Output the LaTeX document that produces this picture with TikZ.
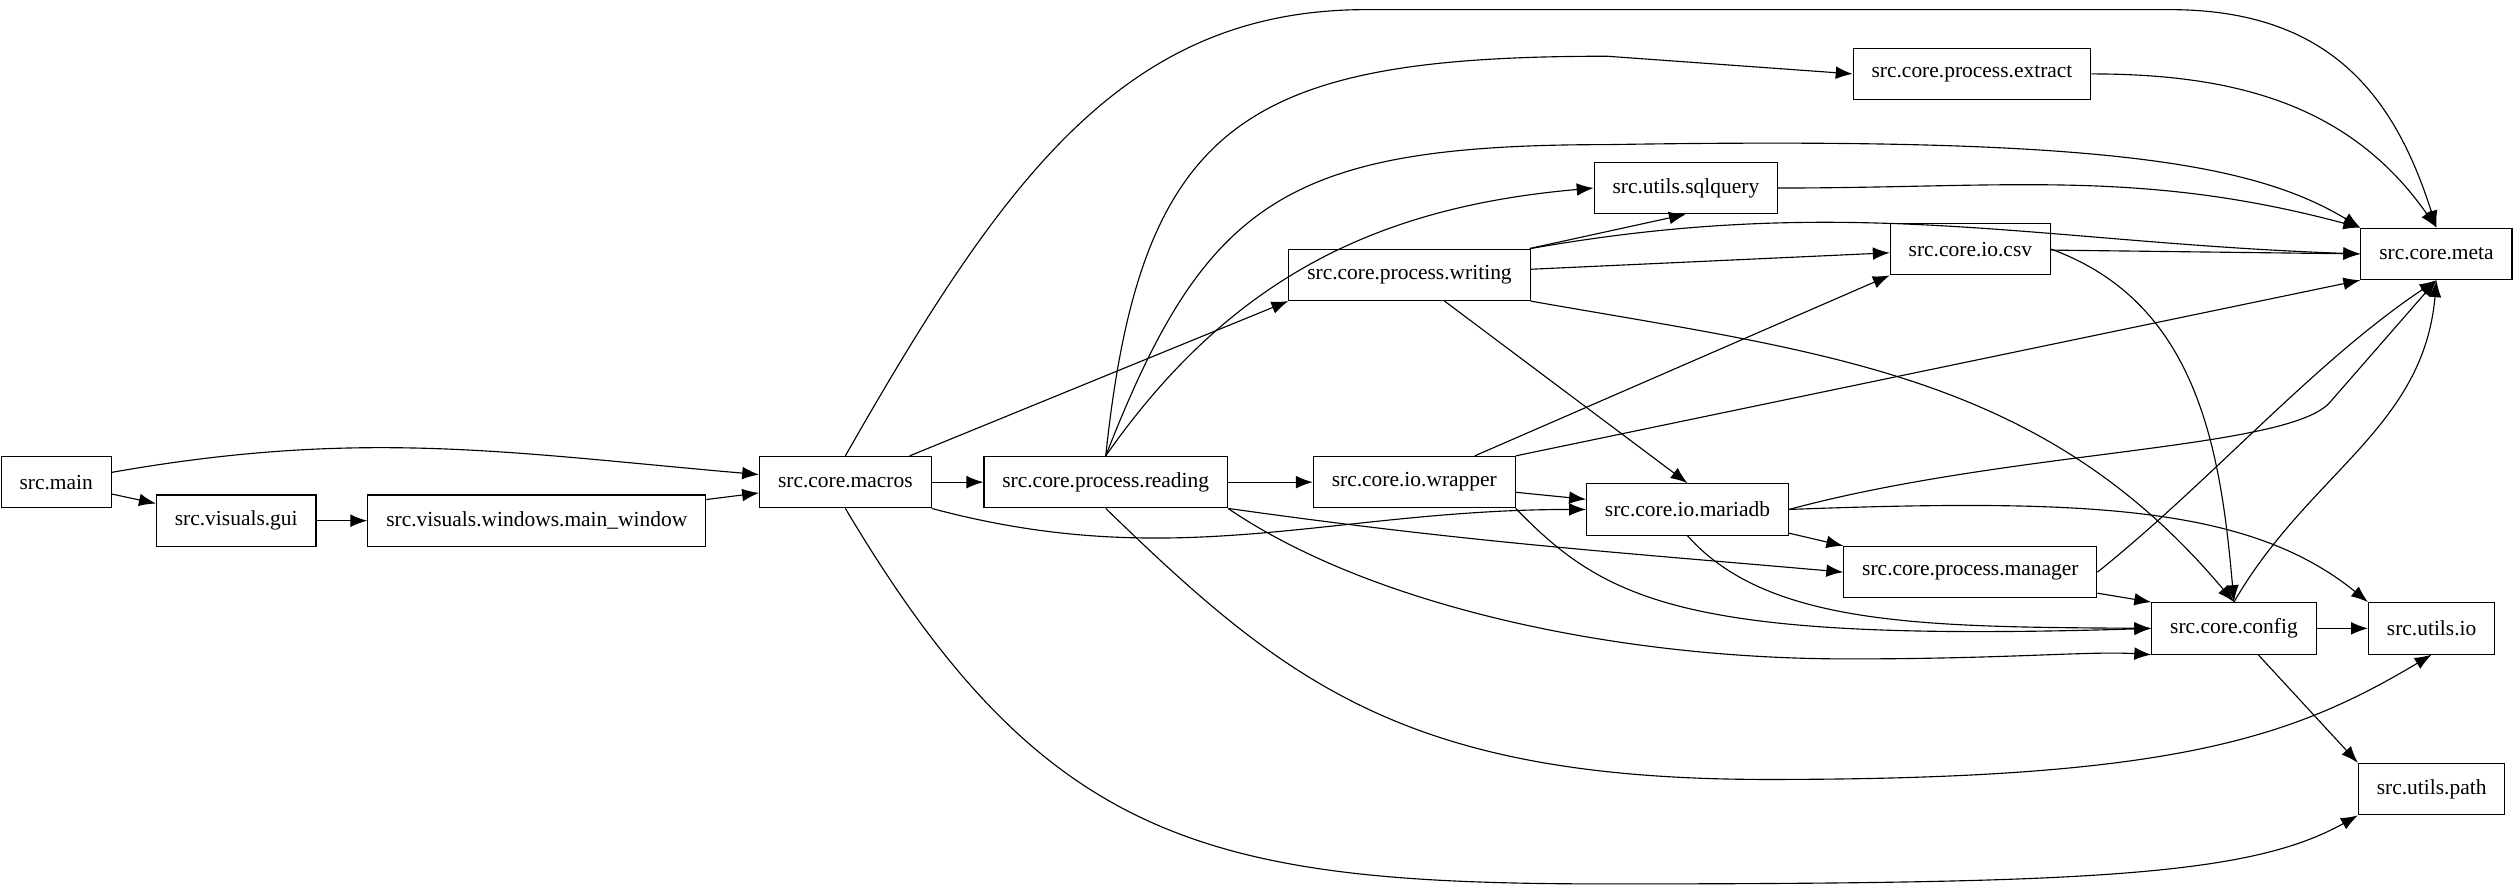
\documentclass[tikz,border=0pt]{standalone}
\usepackage{fontspec}
\setmainfont{Liberation Serif}
\usetikzlibrary{arrows.meta}
\tikzset{
	mod/.style={draw, thin, fill=white, font=\fontsize{7.6}{9}\selectfont, inner xsep=6.5pt, minimum height=0.64cm},
	dep/.style={-{Latex[length=6pt,width=4.5pt]}, thin},
}
\begin{document}
\begin{tikzpicture}
			\useasboundingbox (0,0) rectangle (31.36,-11.04);
			% modules
			\node[mod] (main) at (0.7,-6.0) {src.main};
			\node[mod] (gui) at (2.94,-6.48) {src.visuals.gui};
			\node[mod] (mainwin) at (6.68,-6.48) {src.visuals.windows.main\_window};
			\node[mod] (macros) at (10.52,-6.0) {src.core.macros};
			\node[mod] (reading) at (13.76,-6.0) {src.core.process.reading};
			\node[mod] (wrapper) at (17.6,-6.0) {src.core.io.wrapper};
			\node[mod] (writing) at (17.54,-3.42) {src.core.process.writing};
			\node[mod] (mariadb) at (21.0,-6.34) {src.core.io.mariadb};
			\node[mod] (manager) at (24.52,-7.12) {src.core.process.manager};
			\node[mod] (config) at (27.8,-7.82) {src.core.config};
			\node[mod] (uio) at (30.26,-7.82) {src.utils.io};
			\node[mod] (upath) at (30.26,-9.82) {src.utils.path};
			\node[mod] (meta) at (30.32,-3.16) {src.core.meta};
			\node[mod] (csv) at (24.52,-3.1) {src.core.io.csv};
			\node[mod] (sqlquery) at (20.98,-2.34) {src.utils.sqlquery};
			\node[mod] (extract) at (24.54,-0.92) {src.core.process.extract};
			
			% imports
			\draw[dep] (main) to[out=10,in=175] (macros);
			\draw[dep] (main) -- (gui);
			\draw[dep] (gui) -- (mainwin);
			\draw[dep] (mainwin) -- (macros);
			
			\draw[dep] (macros.north) .. controls (12.5,-2.2) and (14,-0.12) .. (17,-0.12) -- (27,-0.12) .. controls (29,-0.12) and (29.8,-1.2) .. (meta.north);
			\draw[dep] (macros) -- (reading);
			\draw[dep] (macros) -- (writing.south west);
			\draw[dep] (macros.south east) to[out=-15,in=180] (mariadb);
			\draw[dep] (macros.south) .. controls (13,-10.5) and (15,-11.0) .. (20,-11.0) .. controls (26,-11.0) and (28,-10.9) .. (upath.south west);
			
			\draw[dep] (reading.north) .. controls (14.2,-1.5) and (15.5,-0.7) .. (20,-0.7) -- (extract.west);
			\draw[dep] (reading.north) .. controls (15,-2.5) and (16,-1.8) .. (20,-1.8) .. controls (26,-1.7) and (28,-2.0) .. (meta.north west);
			\draw[dep] (reading.north) to[out=55,in=185] (sqlquery.west);
			\draw[dep] (reading) -- (wrapper);
			\draw[dep] (reading.south east) to[out=-8,in=175] (manager.west);
			\draw[dep] (reading.south east) .. controls (17,-7.5) and (20,-8.2) .. (23,-8.2) .. controls (25,-8.2) and (26,-8.1) .. (config.south west);
			\draw[dep] (reading.south) .. controls (16,-8.5) and (17.5,-9.7) .. (22,-9.7) .. controls (27,-9.7) and (28.5,-9.2) .. (uio.south);
			
			\draw[dep] (writing) -- (sqlquery.south);
			\draw[dep] (writing.north east) to[out=10,in=178] (meta.west);
			\draw[dep] (writing) -- (csv);
			\draw[dep] (writing) -- (mariadb.north);
			\draw[dep] (writing.south east) to[out=-10,in=130] (config.north);
			
			\draw[dep] (wrapper) -- (csv.south west);
			\draw[dep] (wrapper.north east) -- (meta.south west);
			\draw[dep] (wrapper) -- (mariadb);
			\draw[dep] (wrapper.south east) .. controls (20,-7.5) and (21,-8.0) .. (config.west);
			
			\draw[dep] (mariadb.east) .. controls (25,-5.6) and (28.5,-5.6) .. (29,-5) -- (meta.south);
			\draw[dep] (mariadb) -- (manager.north west);
			\draw[dep] (mariadb.south) .. controls (22,-7.8) and (24,-7.8) .. (config.west);
			\draw[dep] (mariadb.east) .. controls (26,-6.2) and (28,-6.3) .. (uio.north west);
			
			\draw[dep] (manager.east) .. controls (27.5,-6) and (28.8,-4.5) .. (meta.south);
			\draw[dep] (manager) -- (config.north west);
			
			\draw[dep] (config.north) to[out=60,in=-95] (meta.south);
			\draw[dep] (config) -- (uio);
			\draw[dep] (config) -- (upath.north west);
			
			\draw[dep] (csv) -- (meta.west);
			\draw[dep] (csv.east) to[out=-20,in=95] (config.north);
			\draw[dep] (sqlquery) to[out=0,in=165] (meta.north west);
			\draw[dep] (extract.east) to[out=0,in=125] (meta.north);
		\end{tikzpicture}
\end{document}
